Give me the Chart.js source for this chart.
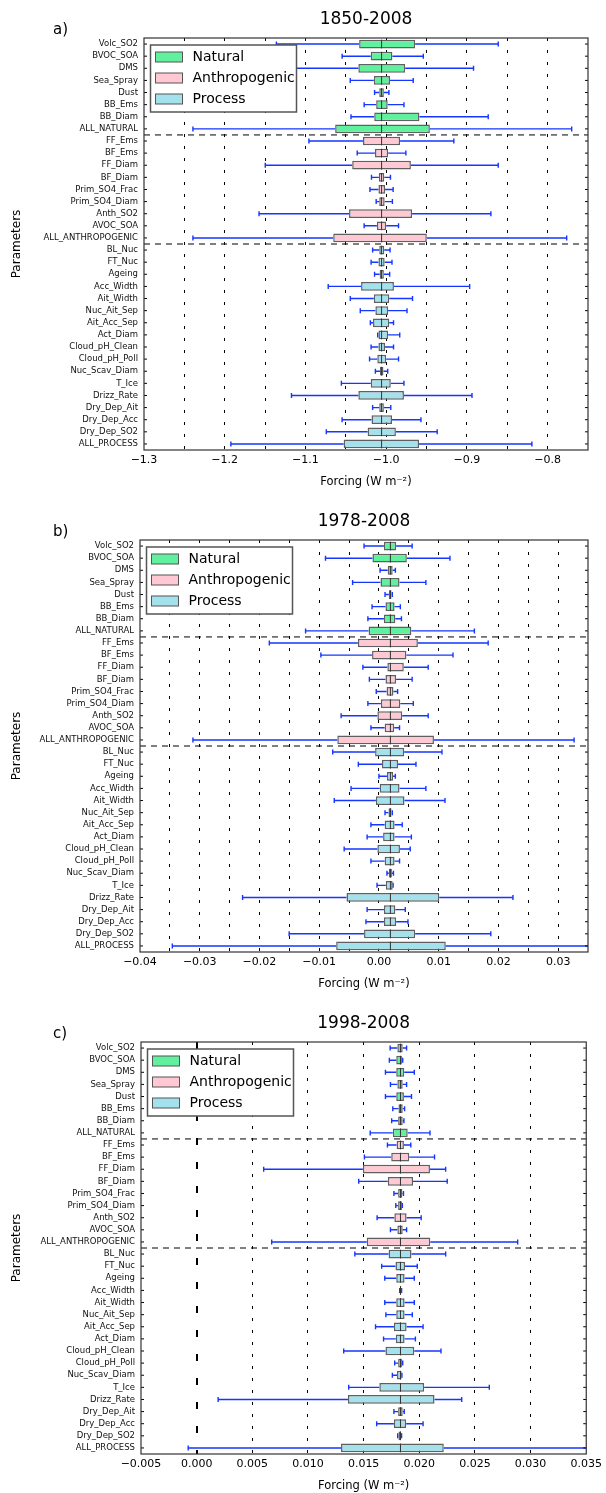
<!DOCTYPE html>
<html>
<head>
<meta charset="utf-8">
<script src="https://cdn.jsdelivr.net/npm/chart.js@4.4.1/dist/chart.umd.min.js"></script>
<style>
  body { margin: 0; background: #fff; overflow: hidden; }
  canvas { display: block; }
</style>
</head>
<body>
<canvas id="panel-a" width="606" height="502"></canvas>
<canvas id="panel-b" width="606" height="502"></canvas>
<canvas id="panel-c" width="606" height="502"></canvas>
<script>
const params = [
  "Volc_SO2", "BVOC_SOA", "DMS", "Sea_Spray", "Dust", "BB_Ems", "BB_Diam", "ALL_NATURAL",
  "FF_Ems", "BF_Ems", "FF_Diam", "BF_Diam", "Prim_SO4_Frac", "Prim_SO4_Diam", "Anth_SO2", "AVOC_SOA", "ALL_ANTHROPOGENIC",
  "BL_Nuc", "FT_Nuc", "Ageing", "Acc_Width", "Ait_Width", "Nuc_Ait_Sep", "Ait_Acc_Sep", "Act_Diam",
  "Cloud_pH_Clean", "Cloud_pH_Poll", "Nuc_Scav_Diam", "T_Ice", "Drizz_Rate", "Dry_Dep_Ait", "Dry_Dep_Acc", "Dry_Dep_SO2", "ALL_PROCESS",
];
const groupNames = ["Natural", "Anthropogenic", "Process"];
const groupEnds = [7, 16, 33]; // index of the last row in each group

// a) 1850-2008
const medA = -1.0057;
const loA = [-1.1360, -1.0546, -1.1197, -1.0445, -1.0144, -1.0273, -1.0436, -1.2394, -1.0957, -1.0359, -1.1498, -1.0182, -1.0201, -1.0124, -1.1575, -1.0273, -1.2394, -1.0168, -1.0187, -1.0144, -1.0718, -1.0445, -1.0321, -1.0196, -1.0105, -1.0187, -1.0206, -1.0134, -1.0555, -1.1173, -1.0168, -1.0546, -1.0742, -1.1924];
const q1A = [-1.0335, -1.0191, -1.0345, -1.0153, -1.0086, -1.0124, -1.0148, -1.0632, -1.0287, -1.0139, -1.0421, -1.0091, -1.0096, -1.0086, -1.0460, -1.0115, -1.0656, -1.0086, -1.0096, -1.0081, -1.0311, -1.0153, -1.0134, -1.0163, -1.0096, -1.0096, -1.0110, -1.0077, -1.0191, -1.0345, -1.0086, -1.0182, -1.0230, -1.0527];
const q3A = [-0.9641, -0.9923, -0.9765, -0.9952, -1.0029, -0.9981, -0.9588, -0.9459, -0.9828, -0.9976, -0.9694, -1.0024, -1.0014, -1.0019, -0.9679, -1.0000, -0.9497, -1.0024, -1.0019, -1.0029, -0.9904, -0.9962, -0.9976, -0.9962, -0.9976, -1.0014, -1.0000, -1.0034, -0.9943, -0.9780, -1.0029, -0.9928, -0.9880, -0.9593];
const hiA = [-0.8612, -0.9540, -0.8918, -0.9665, -0.9966, -0.9780, -0.8736, -0.7702, -0.9162, -0.9756, -0.8612, -0.9947, -0.9914, -0.9923, -0.8703, -0.9847, -0.7764, -0.9952, -0.9928, -0.9957, -0.8966, -0.9674, -0.9742, -0.9909, -0.9832, -0.9909, -0.9847, -0.9981, -0.9780, -0.8937, -0.9943, -0.9569, -0.9368, -0.8195];

// b) 1978-2008
const medB = 0.00192;
const loB = [-0.00249, -0.00895, 0.00019, -0.00441, 0.00102, -0.00115, -0.00185, -0.01228, -0.01835, -0.00972, -0.00269, -0.00160, -0.00045, -0.00185, -0.00633, -0.00134, -0.03114, -0.00774, -0.00345, 0.00000, -0.00467, -0.00748, 0.00102, -0.00134, -0.00198, -0.00582, -0.00134, 0.00134, -0.00032, -0.02283, -0.00198, -0.00217, -0.01503, -0.03459];
const q1B = [0.00083, -0.00109, 0.00147, 0.00026, 0.00166, 0.00109, 0.00083, -0.00173, -0.00352, -0.00115, 0.00141, 0.00109, 0.00128, 0.00032, -0.00026, 0.00096, -0.00697, -0.00064, 0.00051, 0.00134, 0.00013, -0.00051, 0.00160, 0.00096, 0.00070, -0.00026, 0.00096, 0.00166, 0.00115, -0.00543, 0.00083, 0.00083, -0.00249, -0.00716];
const q3B = [0.00288, 0.00467, 0.00230, 0.00345, 0.00211, 0.00262, 0.00275, 0.00543, 0.00652, 0.00460, 0.00416, 0.00288, 0.00243, 0.00358, 0.00390, 0.00256, 0.00921, 0.00422, 0.00320, 0.00237, 0.00345, 0.00428, 0.00211, 0.00262, 0.00262, 0.00352, 0.00262, 0.00217, 0.00230, 0.01010, 0.00275, 0.00288, 0.00607, 0.01119];
const hiB = [0.00556, 0.01189, 0.00275, 0.00786, 0.00224, 0.00358, 0.00377, 0.01598, 0.01829, 0.01240, 0.00825, 0.00556, 0.00313, 0.00575, 0.00825, 0.00345, 0.03267, 0.01055, 0.00620, 0.00275, 0.00786, 0.01106, 0.00224, 0.00390, 0.00543, 0.00524, 0.00345, 0.00243, 0.00237, 0.02244, 0.00441, 0.00486, 0.01873, 0.03800];

// c) 1998-2008
const medC = 0.01831;
const loC = [0.01738, 0.01731, 0.01696, 0.01741, 0.01696, 0.01762, 0.01752, 0.01559, 0.01714, 0.01507, 0.00602, 0.01456, 0.01772, 0.01789, 0.01621, 0.01741, 0.00674, 0.01421, 0.01662, 0.01690, 0.01824, 0.01690, 0.01700, 0.01607, 0.01679, 0.01321, 0.01779, 0.01758, 0.01366, 0.00193, 0.01772, 0.01617, 0.01806, -0.00076];
const q1C = [0.01803, 0.01793, 0.01793, 0.01803, 0.01793, 0.01813, 0.01810, 0.01762, 0.01796, 0.01748, 0.01493, 0.01717, 0.01810, 0.01810, 0.01776, 0.01803, 0.01528, 0.01724, 0.01786, 0.01793, 0.01826, 0.01793, 0.01793, 0.01772, 0.01789, 0.01696, 0.01810, 0.01800, 0.01641, 0.01359, 0.01810, 0.01772, 0.01813, 0.01297];
const q3C = [0.01851, 0.01844, 0.01865, 0.01851, 0.01862, 0.01851, 0.01851, 0.01896, 0.01862, 0.01910, 0.02096, 0.01944, 0.01848, 0.01844, 0.01886, 0.01851, 0.02099, 0.01930, 0.01872, 0.01868, 0.01838, 0.01868, 0.01868, 0.01886, 0.01868, 0.01955, 0.01844, 0.01841, 0.02044, 0.02137, 0.01851, 0.01882, 0.01838, 0.02220];
const hiC = [0.01886, 0.01851, 0.01955, 0.01886, 0.01930, 0.01868, 0.01862, 0.02096, 0.01924, 0.02137, 0.02237, 0.02251, 0.01858, 0.01848, 0.02017, 0.01886, 0.02884, 0.02237, 0.01982, 0.01955, 0.01841, 0.01955, 0.01937, 0.02034, 0.01965, 0.02195, 0.01851, 0.01844, 0.02629, 0.02381, 0.01865, 0.02034, 0.01841, 0.03800];

const groupColors = ["#60f09e", "#ffc8d2", "#a3e2ec"];
const FONT = "DejaVu Sans";
Chart.defaults.font.family = FONT;

const groupOf = (i) => groupEnds.findIndex((end) => i <= end);
const near = (a, b) => Math.abs(a - b) < 1e-9;

const panels = [
  { id: "panel-a", letter: "a)", title: "1850-2008", lo: loA, q1: q1A, q3: q3A, hi: hiA, med: medA,
    min: -1.3, max: -0.75, step: 0.05, every: 0.1, decimals: 1, left: 144 },
  { id: "panel-b", letter: "b)", title: "1978-2008", lo: loB, q1: q1B, q3: q3B, hi: hiB, med: medB,
    min: -0.04, max: 0.035, step: 0.005, every: 0.01, decimals: 2, left: 140 },
  { id: "panel-c", letter: "c)", title: "1998-2008", lo: loC, q1: q1C, q3: q3C, hi: hiC, med: medC,
    min: -0.005, max: 0.035, step: 0.005, every: 0.005, decimals: 3, left: 141, thickZero: true },
];

const BOX = 0.72;

// whiskers, medians, separators, frame, legend and titles
const makeExtras = (p) => ({
  id: "boxExtras",
  beforeDatasetsDraw(chart) {
    const { ctx, chartArea: a, scales: { x, y } } = chart;
    ctx.save();
    ctx.beginPath();
    ctx.rect(a.left, a.top, a.width, a.height);
    ctx.clip();
    ctx.strokeStyle = "#1436ff";
    ctx.lineWidth = 1.4;
    p.lo.forEach((v, i) => {
      const py = y.getPixelForValue(i);
      const xl = x.getPixelForValue(v);
      const x1 = x.getPixelForValue(p.q1[i]);
      const x3 = x.getPixelForValue(p.q3[i]);
      const xh = x.getPixelForValue(p.hi[i]);
      ctx.beginPath();
      ctx.moveTo(xl, py); ctx.lineTo(x1, py);
      ctx.moveTo(x3, py); ctx.lineTo(xh, py);
      ctx.moveTo(xl, py - 2.5); ctx.lineTo(xl, py + 2.5);
      ctx.moveTo(xh, py - 2.5); ctx.lineTo(xh, py + 2.5);
      ctx.stroke();
    });
    ctx.restore();
  },
  afterDatasetsDraw(chart) {
    const { ctx, chartArea: a, scales: { x, y } } = chart;
    const row = y.getPixelForValue(1) - y.getPixelForValue(0);
    const half = (row * BOX) / 2;
    ctx.save();
    // medians
    ctx.strokeStyle = "#333";
    ctx.lineWidth = 1;
    const mx = x.getPixelForValue(p.med);
    params.forEach((_, i) => {
      const py = y.getPixelForValue(i);
      ctx.beginPath();
      ctx.moveTo(mx, py - half);
      ctx.lineTo(mx, py + half);
      ctx.stroke();
    });
    // group separators
    ctx.strokeStyle = "#000";
    ctx.setLineDash([6, 5]);
    groupEnds.slice(0, -1).forEach((g) => {
      const py = (y.getPixelForValue(g) + y.getPixelForValue(g + 1)) / 2;
      ctx.beginPath();
      ctx.moveTo(a.left, py);
      ctx.lineTo(a.right, py);
      ctx.stroke();
    });
    ctx.setLineDash([]);
    // inner row ticks on both sides
    params.forEach((_, i) => {
      const py = y.getPixelForValue(i);
      ctx.beginPath();
      ctx.moveTo(a.left, py); ctx.lineTo(a.left + 3, py);
      ctx.moveTo(a.right - 3, py); ctx.lineTo(a.right, py);
      ctx.stroke();
    });
    ctx.strokeStyle = "#333";
    ctx.lineWidth = 1.2;
    ctx.strokeRect(a.left, a.top, a.width, a.height);
    ctx.restore();
  },
  afterDraw(chart) {
    const { ctx, chartArea: a } = chart;
    ctx.save();
    ctx.fillStyle = "#000";
    ctx.textBaseline = "middle";
    ctx.textAlign = "center";
    ctx.font = `17px ${FONT}`;
    ctx.fillText(p.title, (a.left + a.right) / 2, 20);
    ctx.textAlign = "left";
    ctx.font = `15px ${FONT}`;
    ctx.fillText(p.letter, 53, 30);
    // legend
    const lx = a.left + 6.5, ly = a.top + 7;
    ctx.fillStyle = "#fff";
    ctx.fillRect(lx, ly, 146, 67);
    ctx.strokeStyle = "#555";
    ctx.lineWidth = 1.5;
    ctx.strokeRect(lx, ly, 146, 67);
    ctx.font = `14px ${FONT}`;
    groupNames.forEach((name, k) => {
      const cy = ly + 12 + 21 * k;
      ctx.fillStyle = groupColors[k];
      ctx.fillRect(lx + 5, cy - 5, 27, 10);
      ctx.lineWidth = 1;
      ctx.strokeRect(lx + 5, cy - 5, 27, 10);
      ctx.fillStyle = "#000";
      ctx.fillText(name, lx + 42, cy);
    });
    ctx.restore();
  },
});

const fmt = (v, decimals) => {
  const r = near(v, 0) ? 0 : v;
  return (r < 0 ? "\u2212" : "") + Math.abs(r).toFixed(decimals);
};

const makePanel = (p) => {
  const ctx = document.getElementById(p.id).getContext("2d");
  return new Chart(ctx, {
    type: "bar",
    data: {
      labels: params,
      datasets: [
        {
          data: params.map((_, i) => [p.q1[i], p.q3[i]]),
          backgroundColor: params.map((_, i) => groupColors[groupOf(i)]),
          borderColor: "#606060",
          borderWidth: 1.5,
          borderSkipped: false,
          barPercentage: BOX,
          categoryPercentage: 1,
        },
      ],
    },
    options: {
      indexAxis: "y",
      responsive: false,
      animation: false,
      devicePixelRatio: 1,
      layout: { padding: { top: 38, right: 18, left: 0, bottom: 0 } },
      plugins: {
        legend: { display: false },
        tooltip: { enabled: false },
      },
      scales: {
        x: {
          type: "linear",
          min: p.min,
          max: p.max,
          ticks: {
            stepSize: p.step,
            autoSkip: false,
            maxRotation: 0,
            padding: 4,
            color: "#000",
            font: { size: 11 },
            callback: (v) => {
              const k = v / p.every;
              return Math.abs(k - Math.round(k)) < 1e-6 ? fmt(v, p.decimals) : "";
            },
          },
          grid: {
            drawTicks: false,
            color: (c) =>
              c.tick && (near(c.tick.value, p.min) || near(c.tick.value, p.max)) ? "rgba(0,0,0,0)" : "#000",
            lineWidth: (c) => (p.thickZero && c.tick && near(c.tick.value, 0) ? 2 : 1),
          },
          border: {
            display: false,
            dash: (c) => (p.thickZero && c.tick && near(c.tick.value, 0) ? [7, 17] : [3, 9]),
          },
          title: {
            display: true,
            text: "Forcing (W m\u207B\u00B2)",
            color: "#000",
            font: { size: 11.5 },
            padding: { top: 0, bottom: 13 },
          },
          afterFit: (s) => { s.height = 52; },
        },
        y: {
          ticks: { autoSkip: false, padding: 6, color: "#111", font: { size: 8.5 } },
          grid: { display: false, drawTicks: false },
          border: { display: false },
          title: {
            display: true,
            text: "Parameters",
            color: "#000",
            font: { size: 12 },
            padding: { top: 10, bottom: 0 },
          },
          afterFit: (s) => { s.width = p.left; },
        },
      },
    },
    plugins: [makeExtras(p)],
  });
};

panels.forEach(makePanel);
</script>
</body>
</html>
